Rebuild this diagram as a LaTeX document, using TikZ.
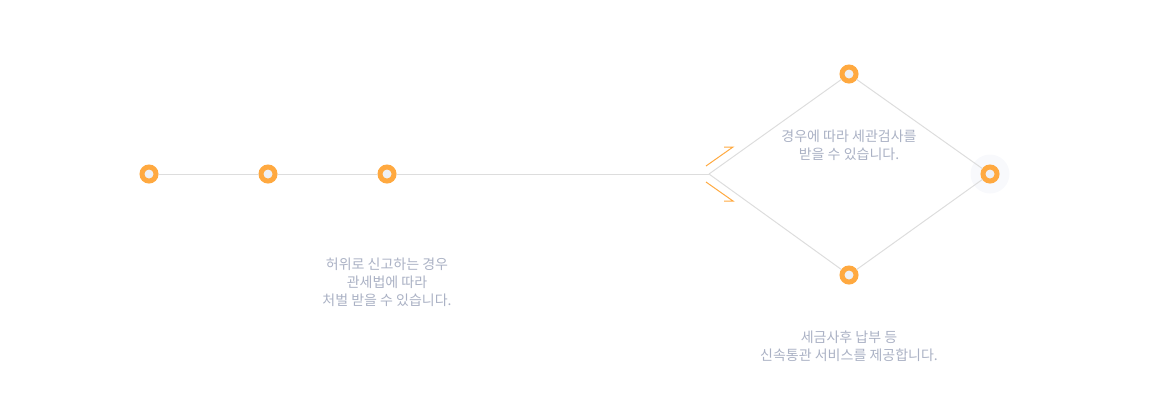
\documentclass[tikz,border=0pt]{standalone}
\usepackage{fontspec}
\newfontfamily\kofont{Noto Sans CJK KR}
\definecolor{dotorange}{HTML}{FFA940}
\definecolor{dotcore}{HTML}{EEF0F5}
\definecolor{wiregray}{HTML}{DDDDDD}
\definecolor{notegray}{HTML}{AAB1C4}
\definecolor{halogray}{HTML}{F8F9FC}
\tikzset{
  dot/.style={circle,draw=dotorange,line width=5pt,fill=dotcore,minimum size=14pt,inner sep=0pt},
  halo/.style={circle,fill=halogray,minimum size=39pt,inner sep=0pt},
  wire/.style={draw=wiregray,line width=1pt},
  tickline/.style={draw=dotorange,line width=1pt},
  note/.style={font=\kofont\fontsize{14}{18}\selectfont,text=notegray,align=center,inner sep=0pt},
}
\begin{document}
\begin{tikzpicture}[x=1pt,y=-1pt]
  \useasboundingbox (0,0) rectangle (1152,400);
  % halo behind the last point
  \node[halo] (glow) at (990,174) {};
  % points on the line
  \node[dot] (p1) at (149,174) {};
  \node[dot] (p2) at (268,174) {};
  \node[dot] (p3) at (387,174) {};
  \coordinate (fork) at (709,174);
  % points of the diamond
  \node[dot] (top) at (849,74) {};
  \node[dot] (right) at (990,174) {};
  \node[dot] (bottom) at (849,275) {};
  \draw[wire] (p1) -- (p2);
  \draw[wire] (p2) -- (p3);
  \draw[wire] (p3) -- (fork);
  \draw[wire] (fork) -- (top) -- (right);
  \draw[wire] (fork) -- (bottom) -- (right);
  % orange ticks at the fork
  \coordinate (upA) at (706,166);
  \coordinate (upB) at (733,147);
  \coordinate (dnA) at (706,182);
  \coordinate (dnB) at (733,201);
  \draw[tickline] (upA) -- (upB) -- ++(-9,0);
  \draw[tickline] (dnA) -- (dnB) -- ++(-9,0);
  % texts
  \node[note] (inner) at (849,145) {경우에 따라 세관검사를\\받을 수 있습니다.};
  \node[note] (left) at (387,282) {허위로 신고하는 경우\\관세법에 따라\\처벌 받을 수 있습니다.};
  \node[note] (below) at (849,346) {세금사후 납부 등\\신속통관 서비스를 제공합니다.};
\end{tikzpicture}
\end{document}
